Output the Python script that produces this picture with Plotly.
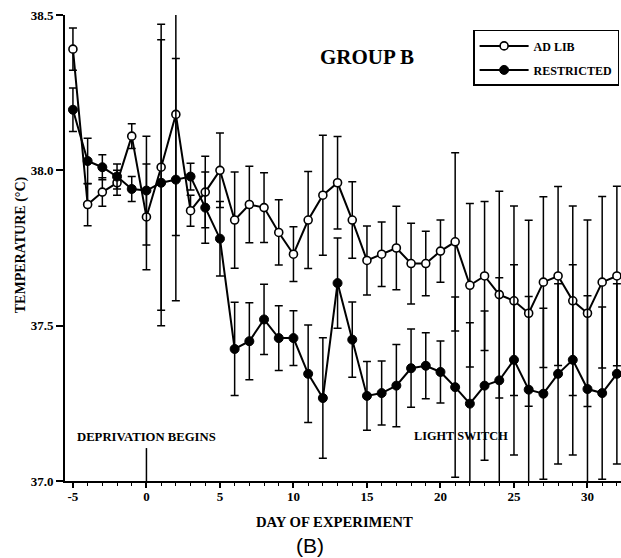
import plotly.graph_objects as go

days = list(range(-5, 33))

adlib = [38.39, 37.89, 37.93, 37.96, 38.11, 37.85, 38.01, 38.18, 37.87, 37.93,
         38.00, 37.84, 37.89, 37.88, 37.80, 37.73, 37.84, 37.92, 37.96, 37.84,
         37.71, 37.73, 37.75, 37.70, 37.70, 37.74, 37.77, 37.63, 37.66, 37.60,
         37.58, 37.54, 37.64, 37.66, 37.58, 37.54, 37.64, 37.66]
adlib_err = [0.068, 0.068, 0.046, 0.04, 0.04, 0.17, 0.46, 0.39, 0.05, 0.115,
             0.12, 0.155, 0.123, 0.112, 0.105, 0.088, 0.156, 0.193, 0.149, 0.123,
             0.111, 0.104, 0.134, 0.13, 0.104, 0.10, 0.287, 0.263, 0.24, 0.333,
             0.305, 0.299, 0.275, 0.288, 0.305, 0.30, 0.276, 0.289]

restricted = [38.195, 38.03, 38.01, 37.98, 37.94, 37.935, 37.96, 37.97, 37.98, 37.88,
              37.78, 37.425, 37.45, 37.52, 37.46, 37.46, 37.345, 37.267, 37.637, 37.455,
              37.274, 37.283, 37.307, 37.363, 37.371, 37.351, 37.302, 37.249, 37.307, 37.324,
              37.39, 37.294, 37.281, 37.345, 37.39, 37.296, 37.283, 37.345]
restricted_err = [0.07, 0.073, 0.04, 0.04, 0.04, 0.175, 0.46, 0.39, 0.043, 0.115,
                  0.12, 0.15, 0.124, 0.113, 0.104, 0.088, 0.157, 0.194, 0.145, 0.121,
                  0.111, 0.103, 0.132, 0.126, 0.106, 0.10, 0.29, 0.26, 0.24, 0.33,
                  0.306, 0.30, 0.275, 0.29, 0.306, 0.30, 0.277, 0.29]

x_tick_vals = [-5, 0, 5, 10, 15, 20, 25, 30]
x_tick_text = ["-5", "0", "5", "10", "15", "20", "25", "30"]
y_tick_vals = [37.0, 37.5, 38.0, 38.5]
y_tick_text = ["37.0", "37.5", "38.0", "38.5"]

SERIF = "Liberation Serif"
BOLD = dict(family=SERIF, color="black", weight="bold")

fig = go.Figure()

fig.add_trace(go.Scatter(
    x=days, y=adlib, name="AD LIB", mode="lines+markers", legendgroup="a",
    legendrank=1,
    line=dict(color="black", width=2),
    marker=dict(symbol="circle", size=8, color="white", line=dict(color="black", width=1.6)),
    error_y=dict(type="data", array=adlib_err, visible=True, color="black",
                 thickness=1.5, width=4),
))
fig.add_trace(go.Scatter(
    x=days, y=restricted, name="RESTRICTED", mode="lines+markers", legendgroup="r",
    legendrank=2,
    line=dict(color="black", width=2),
    marker=dict(symbol="circle", size=9, color="black", line=dict(color="black", width=1)),
    error_y=dict(type="data", array=restricted_err, visible=True, color="black",
                 thickness=1.5, width=4),
))

# marker line for deprivation start
fig.add_shape(type="line", xref="x", yref="y", x0=0, x1=0, y0=37.0, y1=37.106,
              line=dict(color="black", width=1.5))

fig.add_annotation(x=0, y=37.142, xref="x", yref="y", text="DEPRIVATION BEGINS",
                   xanchor="center", yanchor="middle",
                   showarrow=False, font=dict(BOLD, size=12.7))
fig.add_annotation(x=21.43, y=37.145, xref="x", yref="y", text="LIGHT SWITCH",
                   xanchor="center", yanchor="middle",
                   showarrow=False, font=dict(BOLD, size=12.3))
fig.add_annotation(x=15.0, y=38.366, xref="x", yref="y", text="GROUP B",
                   xanchor="center", yanchor="middle",
                   showarrow=False, font=dict(BOLD, size=21))
fig.add_annotation(x=0.4856, y=-0.088, xref="paper", yref="paper", text="DAY OF EXPERIMENT",
                   xanchor="center", yanchor="middle",
                   showarrow=False, font=dict(BOLD, size=14.7))
fig.add_annotation(x=0.4406, y=-0.1385, xref="paper", yref="paper", text="(B)",
                   xanchor="center", yanchor="middle",
                   showarrow=False, font=dict(family="Liberation Sans", size=21, color="black"))
fig.add_annotation(x=-0.0791, y=0.506, xref="paper", yref="paper", text="TEMPERATURE (°C)",
                   xanchor="center", yanchor="middle",
                   textangle=-90, showarrow=False, font=dict(BOLD, size=14))

fig.update_layout(
    width=621, height=558,
    margin=dict(l=65, r=0, t=15, b=77),
    paper_bgcolor="white", plot_bgcolor="white",
    showlegend=True,
    legend=dict(x=0.734, y=0.968, xanchor="left", yanchor="top",
                bordercolor="black", borderwidth=1.5, bgcolor="white",
                font=dict(BOLD, size=12), traceorder="grouped",
                tracegroupgap=5, itemwidth=49),
    xaxis=dict(range=[-5.54, 32.28], showgrid=False, zeroline=False,
               showline=True, linecolor="black", linewidth=2,
               ticks="outside", ticklen=5, tickwidth=1.5, tickcolor="black",
               tickvals=x_tick_vals, ticktext=x_tick_text,
               tickfont=dict(BOLD, size=13), ticklabelstandoff=-3,
               ticklabeloverflow="allow",
               minor=dict(dtick=1, tick0=0, ticks="outside", ticklen=3,
                          tickwidth=1.2, tickcolor="black", showgrid=False)),
    yaxis=dict(range=[37.0, 38.5], showgrid=False, zeroline=False,
               showline=True, linecolor="black", linewidth=2,
               ticks="outside", ticklen=7, tickwidth=1.5, tickcolor="black",
               tickvals=y_tick_vals, ticktext=y_tick_text,
               tickfont=dict(BOLD, size=13), ticklabeloverflow="allow"),
)

fig.write_html("out.html", config={"displayModeBar": False},
               post_script="document.body.style.margin='0';document.body.style.overflow='hidden';")
